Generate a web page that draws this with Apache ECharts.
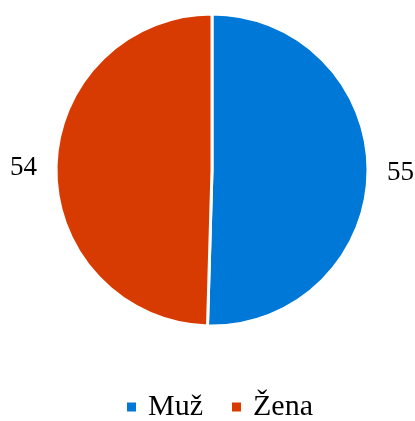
<!DOCTYPE html>
<html>
<head>
<meta charset="utf-8">
<script src="https://cdn.jsdelivr.net/npm/echarts@6/dist/echarts.min.js"></script>
<style>
  html, body { margin: 0; padding: 0; background: #fff; }
  #chart { width: 415px; height: 421px; }
</style>
</head>
<body>
<div id="chart"></div>
<script>
const categories = ["Muž", "Žena"];
const values = [55, 54];
const colors = ["#0078D7", "#D83B01"];
const serif = "Liberation Serif";

const chart = echarts.init(document.getElementById("chart"));

chart.setOption({
  animation: false,
  color: colors,
  textStyle: { fontFamily: serif, color: "#000" },
  legend: {
    top: 392,
    left: 125,
    padding: 0,
    itemWidth: 11,
    itemHeight: 11,
    itemGap: 27,
    icon: "rect",
    textStyle: {
      fontFamily: serif,
      fontSize: 30,
      color: "#000",
      padding: [0, 0, 0, 6]
    },
    data: categories
  },
  series: [
    {
      type: "pie",
      center: [212, 170],
      radius: 156,
      startAngle: 90,
      clockwise: true,
      itemStyle: { borderColor: "#fff", borderWidth: 3 },
      label: {
        show: true,
        position: "outside",
        formatter: "{c}",
        fontFamily: serif,
        fontSize: 27,
        color: "#000",
        overflow: "none"
      },
      labelLine: { show: false, length: 14, length2: 0 },
      data: categories.map((name, i) => ({ name, value: values[i] }))
    }
  ]
});
</script>
</body>
</html>
